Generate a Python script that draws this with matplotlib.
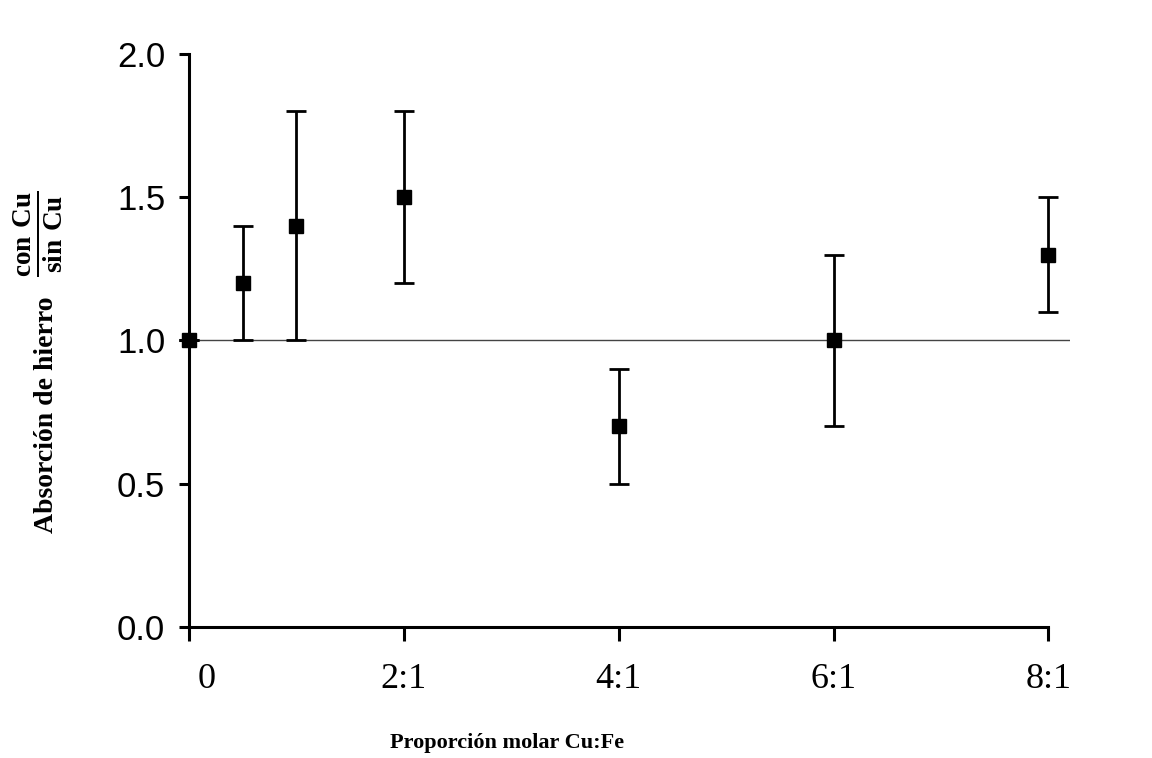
import numpy as np
import matplotlib.pyplot as plt
import matplotlib.transforms as mtransforms

# proporción molar Cu:Fe (x), absorción relativa (y), límites de error
ratio = [0, 0.5, 1, 2, 4, 6, 8]
absorcion = [1.0, 1.2, 1.4, 1.5, 0.7, 1.0, 1.3]
err_low = [0.0, 0.2, 0.4, 0.3, 0.2, 0.3, 0.2]
err_high = [0.0, 0.2, 0.4, 0.3, 0.2, 0.3, 0.2]

xticks = [0, 2, 4, 6, 8]
xtick_labels = ["0", "2:1", "4:1", "6:1", "8:1"]
yticks = [0.0, 0.5, 1.0, 1.5, 2.0]
referencia = 1.0


def main():
    plt.rcParams["mathtext.fontset"] = "custom"
    plt.rcParams["mathtext.bf"] = "Liberation Serif:bold"
    plt.rcParams["mathtext.rm"] = "Liberation Serif"

    fig = plt.figure(figsize=(11.52, 7.58), dpi=100)
    ax = fig.add_axes([0.164, 0.1728, 0.7648, 0.756])

    ax.axhline(referencia, color="#444444", lw=1.0, zorder=1)
    ax.errorbar(ratio, absorcion, yerr=[err_low, err_high], fmt="s",
                color="black", ms=10, capsize=7, elinewidth=2.0,
                capthick=2.0, clip_on=False, zorder=3)

    ax.set_xlim(0, 8.2)
    ax.set_ylim(0, 2.0)
    for s in ["top", "right"]:
        ax.spines[s].set_visible(False)
    ax.spines["bottom"].set_bounds(0, 8)
    ax.spines["left"].set_linewidth(2.2)
    ax.spines["bottom"].set_linewidth(2.2)

    ax.set_yticks(yticks)
    ax.set_yticklabels([f"{v:.1f}" for v in yticks],
                       family="Liberation Sans", fontsize=25)
    ax.set_xticks(xticks)
    ax.set_xticklabels(xtick_labels, family="Liberation Serif", fontsize=26)
    ax.tick_params(axis="y", direction="out", length=7, width=2.2, pad=10)
    ax.tick_params(axis="x", direction="out", length=10, width=2.2, pad=16)

    # the "0" label sits a bit to the right of its tick
    lbl = ax.get_xticklabels()[0]
    lbl.set_transform(lbl.get_transform() +
                      mtransforms.ScaledTranslation(0.18, 0, fig.dpi_scale_trans))

    fig.text(0.44, 0.006, "Proporción molar Cu:Fe", family="Liberation Serif",
             fontweight="bold", fontsize=16, ha="center", va="bottom")
    fig.text(0.040, 0.453, "Absorción de hierro", family="Liberation Serif",
             fontweight="bold", fontsize=20, rotation=90, ha="center",
             va="center")
    fig.text(0.033, 0.692, r"$\frac{\mathbf{con\ Cu}}{\mathbf{sin\ Cu}}$",
             fontsize=28, rotation=90, ha="center", va="center")

    fig.savefig("out.png", dpi=100, facecolor="white")


if __name__ == "__main__":
    main()
